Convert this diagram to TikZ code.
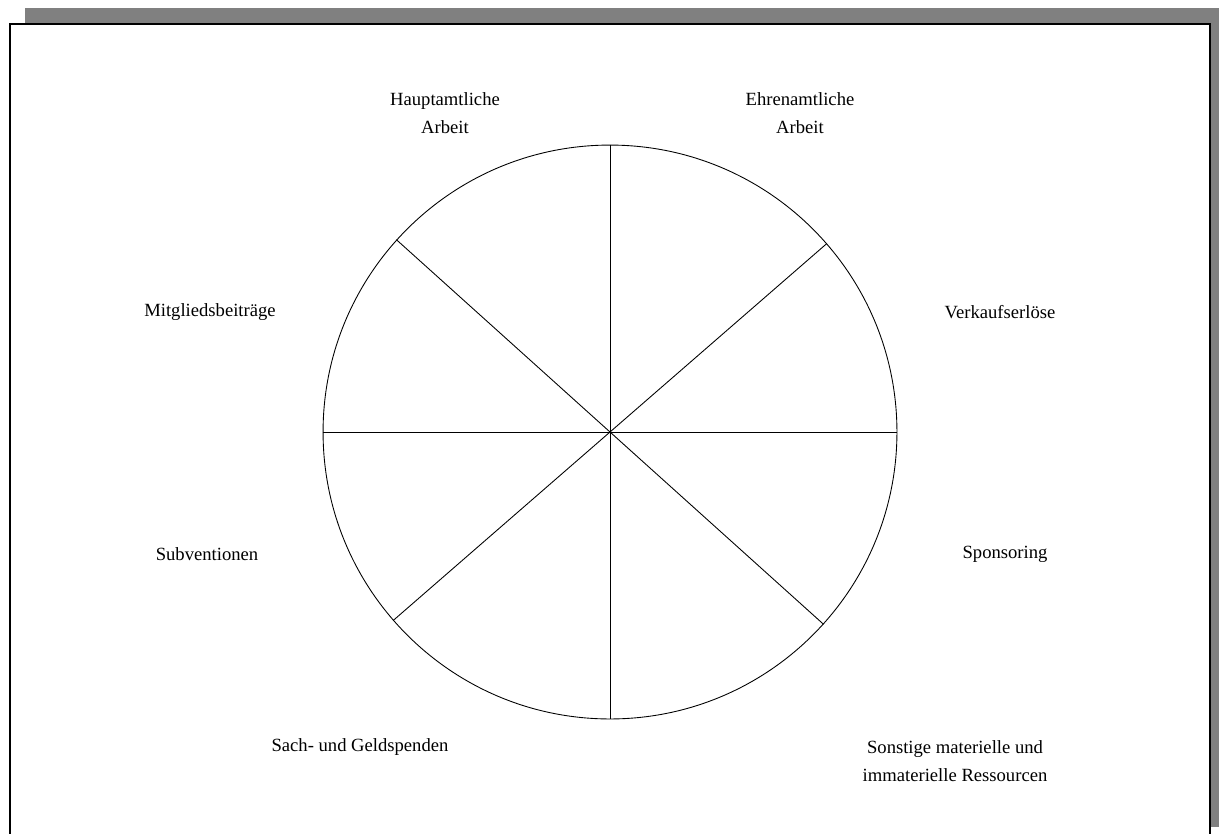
\documentclass[tikz,border=0pt]{standalone}
\usepackage{fontspec}
\setmainfont{Liberation Serif}
\usetikzlibrary{positioning}

\begin{document}
\begin{tikzpicture}[x=0.02cm,y=-0.02cm,
            label/.style={align=center,font=\fontsize{10.6}{16}\selectfont,inner sep=1pt},
            spoke/.style={line width=0.5pt}]
            \useasboundingbox (0,0) rectangle (1219,833);

            % Shadow and frame
            \fill[gray] (25,8) rectangle (1219,827);
            \begin{scope}
                \clip (0,0) rectangle (1219,833);
                \draw[line width=1.2pt,fill=white] (10,24) rectangle (1210,860);
            \end{scope}

            % Wheel
            \node[circle,draw,line width=0.5pt,minimum size=11.48cm,inner sep=0pt] (wheel) at (610,432) {};

            \draw[spoke] (wheel.north) -- (wheel.south);
            \draw[spoke] (wheel.west) -- (wheel.east);
            \draw[spoke] (wheel.41.6) -- (wheel.221.6);
            \draw[spoke] (wheel.138.4) -- (wheel.318.4);

            % Labels top
            \node[label] (haupt) at (445,113) {Hauptamtliche\\Arbeit};
            \node[label] (ehren) at (800,113) {Ehrenamtliche\\Arbeit};

            % Labels left
            \node[label] (mitglied) at (210,312) {Mitgliedsbeiträge};
            \node[label] (subv)     at (207,554) {Subventionen};
            \node[label] (spenden)  at (360,747) {Sach- und Geldspenden};

            % Labels right
            \node[label] (verkauf)  at (1000,312) {Verkaufserlöse};
            \node[label] (sponsor)  at (1005,554) {Sponsoring};
            \node[label] (sonstige) at (955,761) {Sonstige materielle und\\immaterielle Ressourcen};

        \end{tikzpicture}
\end{document}
